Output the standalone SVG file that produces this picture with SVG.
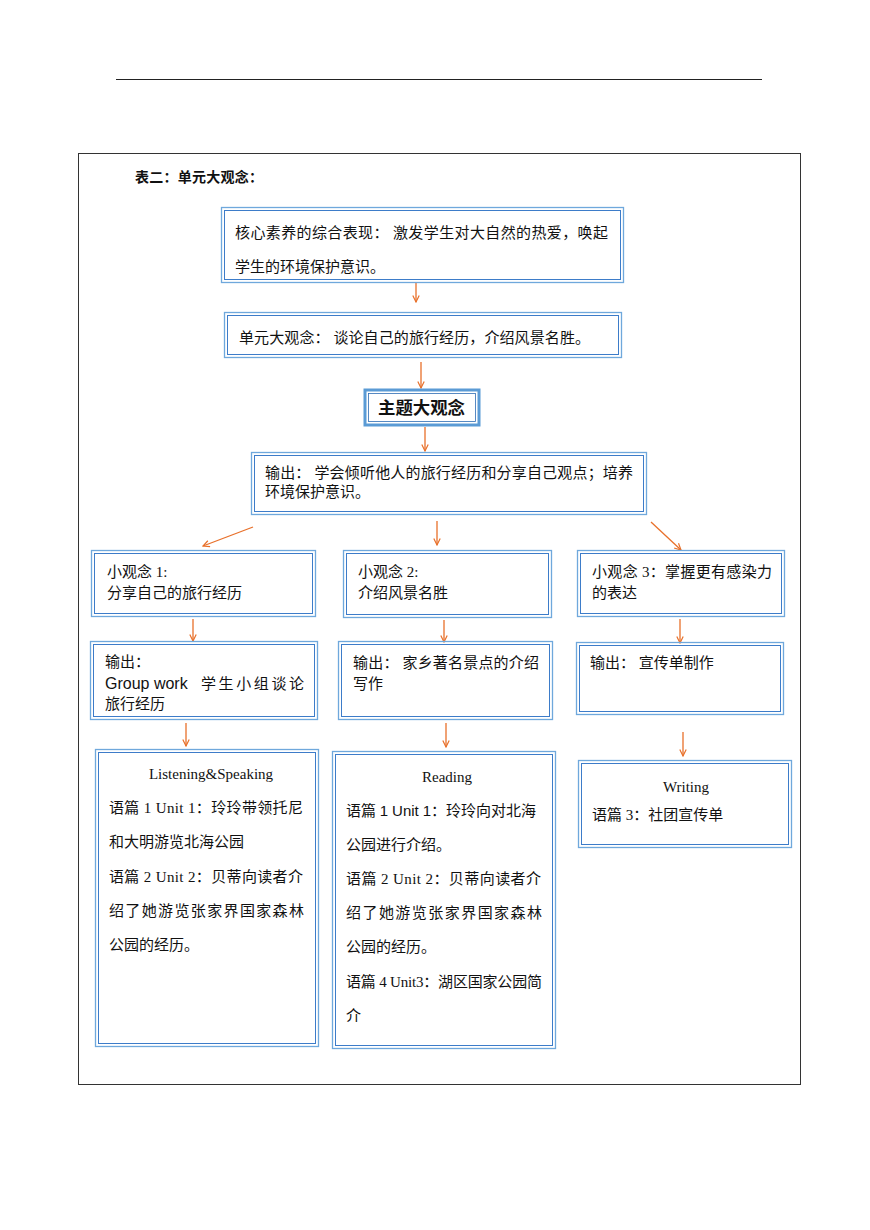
<svg xmlns="http://www.w3.org/2000/svg" width="870" height="1230" viewBox="0 0 870 1230">
<style>
.o{fill:none;stroke:#6fa8dc;stroke-width:1.3}
.i{fill:none;stroke:#3d7cc9;stroke-width:1}
.t{font-family:"Liberation Serif","Noto Sans CJK SC",serif;font-size:15px;fill:#111}
.s{font-family:"Liberation Sans","Noto Sans CJK SC",sans-serif}
.c{fill:none;stroke:#e8702a;stroke-width:1.3}
</style>
<defs>
<marker id="ah" viewBox="0 0 10 10" refX="9" refY="5" markerWidth="8" markerHeight="8" markerUnits="userSpaceOnUse" orient="auto">
<polyline points="1,1 9,5 1,9" fill="none" stroke="#e8702a" stroke-width="1.5"/>
</marker>
</defs>
<rect width="870" height="1230" fill="#fff"/>
<line x1="116" y1="79.5" x2="762" y2="79.5" stroke="#222" stroke-width="1.2"/>
<rect x="78.5" y="153.5" width="722" height="931" fill="none" stroke="#333" stroke-width="1"/>
<text x="135" y="182" class="t" style="font-weight:bold;font-size:14px" textLength="128" lengthAdjust="spacing">表二：单元大观念：</text>

<g id="connectors">
<line class="c" x1="416" y1="283" x2="416" y2="302" marker-end="url(#ah)"/>
<line class="c" x1="421" y1="362" x2="421" y2="388" marker-end="url(#ah)"/>
<line class="c" x1="425" y1="427" x2="425" y2="451" marker-end="url(#ah)"/>
<line class="c" x1="253" y1="527" x2="203" y2="546" marker-end="url(#ah)"/>
<line class="c" x1="437" y1="521" x2="437" y2="545" marker-end="url(#ah)"/>
<line class="c" x1="651" y1="522" x2="681" y2="550" marker-end="url(#ah)"/>
<line class="c" x1="193" y1="619" x2="193" y2="641" marker-end="url(#ah)"/>
<line class="c" x1="444" y1="620" x2="444" y2="642" marker-end="url(#ah)"/>
<line class="c" x1="680" y1="619" x2="680" y2="643" marker-end="url(#ah)"/>
<line class="c" x1="186" y1="723" x2="186" y2="746" marker-end="url(#ah)"/>
<line class="c" x1="446" y1="723" x2="446" y2="747" marker-end="url(#ah)"/>
<line class="c" x1="683" y1="732" x2="683" y2="756" marker-end="url(#ah)"/>
</g>

<g id="core">
<rect class="o" x="221.5" y="207.5" width="402" height="75"/>
<rect class="i" x="224.5" y="210.5" width="396" height="69"/>
<text class="t" x="235" y="238" textLength="373" lengthAdjust="spacing">核心素养的综合表现： 激发学生对大自然的热爱，唤起</text>
<text class="t" x="235" y="272">学生的环境保护意识。</text>
</g>

<g id="unit">
<rect class="o" x="224.5" y="312.5" width="397" height="45"/>
<rect class="i" x="227.5" y="315.5" width="391" height="39"/>
<text class="t" x="239" y="343" textLength="351" lengthAdjust="spacing">单元大观念： 谈论自己的旅行经历，介绍风景名胜。</text>
</g>

<g id="theme">
<rect x="365" y="390" width="114" height="35" fill="none" stroke="#5b9bd5" stroke-width="3"/>
<rect x="368.5" y="393.5" width="107" height="28" fill="none" stroke="#2e6db4" stroke-width="0.8"/>
<text x="378" y="414" textLength="87" lengthAdjust="spacingAndGlyphs" style="font-family:'Noto Sans CJK SC',sans-serif;font-size:17px;font-weight:bold;fill:#111">主题大观念</text>
</g>

<g id="output-main">
<rect class="o" x="251.5" y="452.5" width="395" height="62"/>
<rect class="i" x="254.5" y="455.5" width="389" height="56"/>
<text class="t" x="265" y="478" textLength="368" lengthAdjust="spacing">输出： 学会倾听他人的旅行经历和分享自己观点；培养</text>
<text class="t" x="265" y="497">环境保护意识。</text>
</g>

<g id="idea1">
<rect class="o" x="91.5" y="550.5" width="224" height="66"/>
<rect class="i" x="94.5" y="553.5" width="218" height="60"/>
<text class="t" x="107" y="577">小观念 1:</text>
<text class="t" x="107" y="598">分享自己的旅行经历</text>
</g>
<g id="idea2">
<rect class="o" x="343.5" y="550.5" width="208" height="67"/>
<rect class="i" x="346.5" y="553.5" width="202" height="61"/>
<text class="t" x="358" y="577">小观念 2:</text>
<text class="t" x="358" y="598">介绍风景名胜</text>
</g>
<g id="idea3">
<rect class="o" x="577.5" y="550.5" width="207" height="66"/>
<rect class="i" x="580.5" y="553.5" width="201" height="60"/>
<text class="t" x="592" y="577" textLength="180" lengthAdjust="spacing">小观念 3：掌握更有感染力</text>
<text class="t" x="592" y="598">的表达</text>
</g>

<g id="out1">
<rect class="o" x="90.5" y="641.5" width="227" height="78"/>
<rect class="i" x="93.5" y="644.5" width="221" height="72"/>
<text class="t" x="105" y="667">输出：</text>
<text class="s" x="105" y="689" style="font-size:16px;fill:#111">Group work</text>
<text class="t" x="201" y="689" textLength="103" lengthAdjust="spacing">学生小组谈论</text>
<text class="t" x="105" y="709">旅行经历</text>
</g>
<g id="out2">
<rect class="o" x="338.5" y="641.5" width="214" height="78"/>
<rect class="i" x="341.5" y="644.5" width="208" height="72"/>
<text class="t" x="353" y="668" textLength="186" lengthAdjust="spacing">输出： 家乡著名景点的介绍</text>
<text class="t" x="353" y="689">写作</text>
</g>
<g id="out3">
<rect class="o" x="576.5" y="642.5" width="207" height="72"/>
<rect class="i" x="579.5" y="645.5" width="201" height="66"/>
<text class="t" x="590" y="668">输出：  宣传单制作</text>
</g>

<g id="listening">
<rect class="o" x="95.5" y="749.5" width="223" height="297"/>
<rect class="i" x="98.5" y="752.5" width="217" height="291"/>
<text class="t" x="211" y="779" text-anchor="middle">Listening&amp;Speaking</text>
<text class="t" x="109" y="813" textLength="194" lengthAdjust="spacing">语篇 1 Unit 1：玲玲带领托尼</text>
<text class="t" x="109" y="847">和大明游览北海公园</text>
<text class="t" x="109" y="882" textLength="194" lengthAdjust="spacing">语篇 2 Unit 2：贝蒂向读者介</text>
<text class="t" x="109" y="916" textLength="195" lengthAdjust="spacing">绍了她游览张家界国家森林</text>
<text class="t" x="109" y="950">公园的经历。</text>
</g>

<g id="reading">
<rect class="o" x="332.5" y="751.5" width="223" height="297"/>
<rect class="i" x="335.5" y="754.5" width="217" height="291"/>
<text class="t" x="447" y="782" text-anchor="middle">Reading</text>
<text class="t" x="346" y="816" textLength="190" lengthAdjust="spacing">语篇 <tspan class="s">1 Unit 1</tspan>：玲玲向对北海</text>
<text class="t" x="346" y="850">公园进行介绍。</text>
<text class="t" x="346" y="884" textLength="195" lengthAdjust="spacing">语篇 2 Unit 2：贝蒂向读者介</text>
<text class="t" x="346" y="918" textLength="196" lengthAdjust="spacing">绍了她游览张家界国家森林</text>
<text class="t" x="346" y="952">公园的经历。</text>
<text class="t" x="346" y="987" textLength="196" lengthAdjust="spacing">语篇 4 Unit3：湖区国家公园简</text>
<text class="t" x="346" y="1021">介</text>
</g>

<g id="writing">
<rect class="o" x="578.5" y="760.5" width="213" height="87"/>
<rect class="i" x="581.5" y="763.5" width="207" height="81"/>
<text class="t" x="686" y="792" text-anchor="middle">Writing</text>
<text class="t" x="592" y="820">语篇 3：社团宣传单</text>
</g>
</svg>
